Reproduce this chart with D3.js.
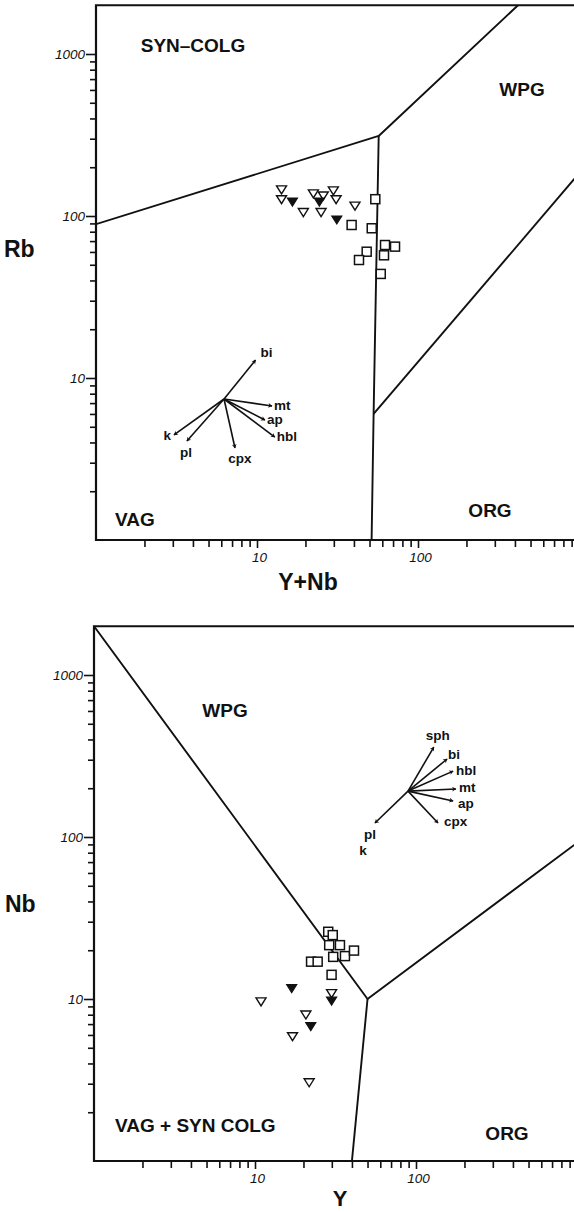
<!DOCTYPE html>
<html><head><meta charset="utf-8">
<script src="https://cdn.jsdelivr.net/npm/d3@7/dist/d3.min.js"></script>
<style>
html,body{margin:0;padding:0;background:#fff;}
svg{display:block;}
.lbl{font-family:"Liberation Sans",Arial,sans-serif;font-weight:bold;fill:#111;}
.tick text{font-family:"Liberation Sans",Arial,sans-serif;font-style:italic;fill:#111;}
</style></head>
<body>
<script>
// ---------- DATA ----------
// Panel 1: Rb vs (Y+Nb)
const rbOpenTri   = [[14.2,145],[14.2,126],[19.4,105],[22.4,137],[25.8,133],[29.8,143],[31.0,126],[25.0,105],[40.6,115]];
const rbFilledTri = [[16.6,122],[24.4,122],[31.3,94.5]];
const rbSquares   = [[54.3,127],[38.7,88],[51.6,84],[62.4,66.2],[72.0,64.7],[61.5,57.2],[48.0,60.2],[43.0,53.5],[58.7,43.9]];
const rbBounds = [
  [[1,89],[57,312],[418,2000]],
  [[57,312],[53,6],[51.5,1]],
  [[53,6],[2000,410]]
];
const rbRegions = ["SYN\u2013COLG","WPG","VAG","ORG"];
const rbVecOrigin = [6.24,7.42];
const rbVecNames = ["bi","mt","ap","hbl","cpx","pl","k"];
const rbVecTips  = [[9.8,12.9],[12.4,6.72],[11.2,5.5],[12.9,4.32],[7.3,3.70],[3.67,4.08],[3.05,4.45]];

// Panel 2: Nb vs Y
const nbOpenTri   = [[10.9,9.6],[29.9,10.8],[20.7,7.96],[17.1,5.85],[21.7,3.04]];
const nbFilledTri = [[16.9,11.6],[29.9,9.7],[22.2,6.75]];
const nbSquares   = [[28.5,26.0],[30.4,24.8],[28.9,21.5],[33.7,21.5],[30.6,18.2],[36.2,18.4],[41.2,19.9],[22.3,17.0],[24.5,17.0],[29.9,14.1]];
const nbBounds = [
  [[1,2000],[50,10],[1000,92]],
  [[50,10],[40,1]]
];
const nbRegions = ["WPG","VAG + SYN COLG","ORG"];
const nbVecOrigin = [89.2,192];
const nbVecNames = ["sph","bi","hbl","mt","ap","cpx","pl","k"];
const nbVecTips  = [[129,359],[156,303],[170,255],[177,198],[170,167],[137,122],[55.6,122],[55.6,122]];

const xMajor = [10,100];
const yMajor = [10,100,1000];
const axisTitles = ["Rb","Y+Nb","Nb","Y"];

// ---------- LAYOUT ----------
const W = 574, H = 1212;
const svg = d3.select("body").append("svg").attr("width",W).attr("height",H);
const defs = svg.append("defs");
defs.append("marker").attr("id","ah").attr("viewBox","-6 -4 8 8")
  .attr("refX",0).attr("refY",0).attr("markerWidth",6).attr("markerHeight",6)
  .attr("markerUnits","userSpaceOnUse").attr("orient","auto")
  .append("path").attr("d","M-5,-3.2 L0.5,0 L-5,3.2 L-3.5,0 Z").attr("fill","#111");

const minors = [];
for (let d of [1,10,100]) for (let k=2;k<=9;k++) minors.push(d*k);
const minorsX = minors.filter(v=>v<1000);

function panel(cfg){
  const x = d3.scaleLog().domain([1,1000]).range([cfg.left, cfg.left+161*3]);
  const y = d3.scaleLog().domain([1,2000]).range([cfg.bottom, cfg.bottom-162*Math.log10(2000)]);
  const g = svg.append("g");
  const clipId = "clip"+cfg.id;
  defs.append("clipPath").attr("id",clipId).append("rect")
    .attr("x",cfg.left).attr("y",y(2000)).attr("width",W-cfg.left).attr("height",cfg.bottom-y(2000));

  // axes
  const yMin = g.append("g").attr("transform",`translate(${cfg.left},0)`)
    .call(d3.axisLeft(y).tickValues(minors.filter(v=>v<2000)).tickSize(6).tickSizeOuter(0).tickFormat(""));
  const yMaj = g.append("g").attr("transform",`translate(${cfg.left},0)`)
    .call(d3.axisLeft(y).tickValues(yMajor).tickSize(10).tickSizeOuter(0).tickPadding(1).tickFormat(d3.format("d")));
  const xMin = g.append("g").attr("transform",`translate(0,${cfg.bottom})`)
    .call(d3.axisBottom(x).tickValues(minorsX).tickSize(7).tickSizeOuter(0).tickFormat(""));
  const xMaj = g.append("g").attr("transform",`translate(0,${cfg.bottom})`)
    .call(d3.axisBottom(x).tickValues(xMajor).tickSize(8).tickSizeOuter(0).tickPadding(4).tickFormat(d3.format("d")));
  [yMin,yMaj,xMin,xMaj].forEach(a=>{
    a.selectAll(".domain").remove();
    a.selectAll(".tick line").attr("stroke","#111").attr("stroke-width",1.6);
    a.selectAll(".tick text").attr("font-size",13.5);
  });
  xMaj.selectAll(".tick text").attr("dx",2);
  // frame
  const top = y(2000);
  g.append("path").attr("d",`M${W},${top}H${cfg.left}V${cfg.bottom}H${W}`)
    .attr("fill","none").attr("stroke","#111").attr("stroke-width",2.2);

  // boundaries
  const line = d3.line().x(d=>x(d[0])).y(d=>y(d[1]));
  g.append("g").attr("clip-path",`url(#${clipId})`).selectAll("path").data(cfg.bounds).join("path")
    .attr("d",line).attr("fill","none").attr("stroke","#111").attr("stroke-width",1.9).attr("stroke-linejoin","round");

  // vectors
  const vg = g.append("g");
  const o = cfg.vecOrigin;
  cfg.vecTips.forEach((t,i)=>{
    const nm = cfg.vecNames[i];
    if (!(cfg.noArrow||[]).includes(nm))
      vg.append("line").attr("x1",x(o[0])).attr("y1",y(o[1])).attr("x2",x(t[0])).attr("y2",y(t[1]))
        .attr("stroke","#111").attr("stroke-width",1.6).attr("marker-end","url(#ah)");
    const off = cfg.vecLbl[nm];
    vg.append("text").attr("class","lbl").attr("x",x(t[0])+off[0]).attr("y",y(t[1])+off[1])
      .attr("text-anchor",off[2]).attr("font-size",13.5).text(nm);
  });

  // markers
  const tri = "M-5,-4L5,-4L0,4Z";
  g.selectAll(".ot").data(cfg.openTri).join("path").attr("d",tri)
    .attr("transform",d=>`translate(${x(d[0])},${y(d[1])})`)
    .attr("fill","#fff").attr("stroke","#111").attr("stroke-width",1.4);
  g.selectAll(".sq").data(cfg.squares).join("rect")
    .attr("x",d=>x(d[0])-4.5).attr("y",d=>y(d[1])-4.5).attr("width",9).attr("height",9)
    .attr("fill","#fff").attr("stroke","#111").attr("stroke-width",1.5);
  g.selectAll(".ft").data(cfg.filledTri).join("path").attr("d",tri)
    .attr("transform",d=>`translate(${x(d[0])},${y(d[1])})`)
    .attr("fill","#111").attr("stroke","#111").attr("stroke-width",1.2);

  // region labels
  cfg.regions.forEach((r,i)=>{
    const p = cfg.regionPos[i];
    g.append("text").attr("class","lbl").attr("x",p[0]).attr("y",p[1]).attr("text-anchor",p[2])
      .attr("font-size",19).text(r);
  });
  return {x,y};
}

panel({id:1,left:96,bottom:540,
  openTri:rbOpenTri,filledTri:rbFilledTri,squares:rbSquares,bounds:rbBounds,
  regions:rbRegions,regionPos:[[193,52,"middle"],[522,96,"middle"],[135,526,"middle"],[490,517,"middle"]],
  vecOrigin:rbVecOrigin,vecNames:rbVecNames,vecTips:rbVecTips,
  vecLbl:{bi:[5,-3,"start"],mt:[2,4,"start"],ap:[2,4,"start"],hbl:[2,4,"start"],cpx:[5,15,"middle"],pl:[-1,16,"middle"],k:[-3,5,"end"]}
});
panel({id:2,left:94,bottom:1161,
  openTri:nbOpenTri,filledTri:nbFilledTri,squares:nbSquares,bounds:nbBounds,
  regions:nbRegions,regionPos:[[225,717,"middle"],[115,1132,"start"],[507,1140,"middle"]],
  vecOrigin:nbVecOrigin,vecNames:nbVecNames,vecTips:nbVecTips,noArrow:["k"],
  vecLbl:{sph:[4,-7,"middle"],bi:[1,0,"start"],hbl:[3,4,"start"],mt:[3,3,"start"],ap:[5,7,"start"],cpx:[6,3,"start"],pl:[-5,16,"middle"],k:[-12,32,"middle"]}
});

// axis titles
svg.append("text").attr("class","lbl").attr("x",4).attr("y",257).attr("font-size",23).text(axisTitles[0]);
svg.append("text").attr("class","lbl").attr("x",308).attr("y",590).attr("text-anchor","middle").attr("font-size",23).text(axisTitles[1]);
svg.append("text").attr("class","lbl").attr("x",5).attr("y",912).attr("font-size",23).text(axisTitles[2]);
svg.append("text").attr("class","lbl").attr("x",340).attr("y",1206).attr("text-anchor","middle").attr("font-size",22).text(axisTitles[3]);
</script>
</body></html>
